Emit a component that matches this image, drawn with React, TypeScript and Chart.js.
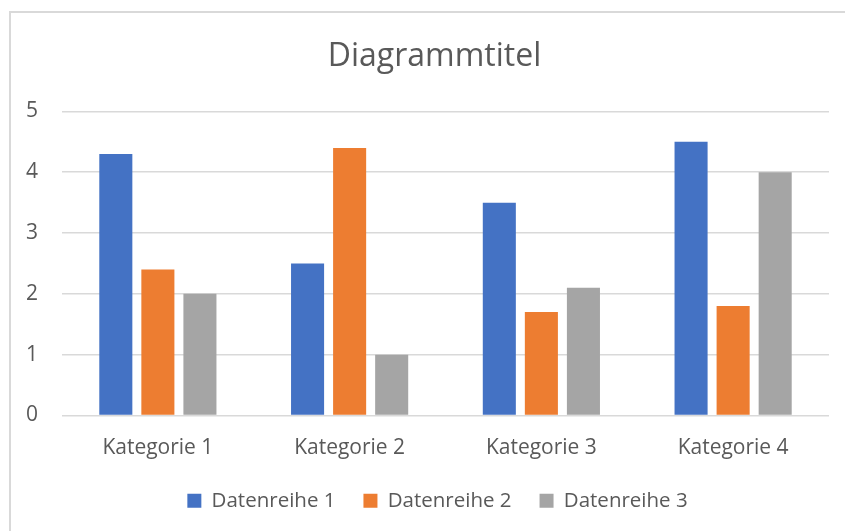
import React, { useEffect, useRef } from "react";
import { Chart, registerables } from "chart.js";

Chart.register(...registerables);

const categories = ["Kategorie 1", "Kategorie 2", "Kategorie 3", "Kategorie 4"];
const series1 = [4.3, 2.5, 3.5, 4.5];
const series2 = [2.4, 4.4, 1.7, 1.8];
const series3 = [2.0, 1.0, 2.1, 4.0];
const seriesNames = ["Datenreihe 1", "Datenreihe 2", "Datenreihe 3"];
const yMin = 0;
const yMax = 5;
const yStep = 1;
const title = "Diagrammtitel";

const FONT = "'Open Sans', sans-serif";
const TEXT = "#595959";

// Shift the title and legend horizontally so they are centred like in the reference
const centerShift = {
  id: "centerShift",
  afterLayout(chart: any) {
    const lg = chart.legend;
    if (lg) {
      lg.left += 18;
      lg.right += 18;
    }
    const tb = chart.titleBlock;
    if (tb) {
      tb.left += 15;
      tb.right += 15;
    }
  },
};

export default function App() {
  const ref = useRef<HTMLCanvasElement>(null);
  useEffect(() => {
    const chart = new Chart(ref.current!, {
      type: "bar",
      data: {
        labels: categories,
        datasets: [
          { label: seriesNames[0], data: series1, backgroundColor: "#4472C4" },
          { label: seriesNames[1], data: series2, backgroundColor: "#ED7D31" },
          { label: seriesNames[2], data: series3, backgroundColor: "#A5A5A5" },
        ],
      },
      plugins: [centerShift],
      options: {
        animation: false,
        responsive: false,
        maintainAspectRatio: false,
        layout: { padding: { left: 10, right: 16, top: 0, bottom: 10 } },
        datasets: { bar: { categoryPercentage: 0.658, barPercentage: 0.786 } },
        plugins: {
          title: {
            display: true,
            text: title,
            color: TEXT,
            font: { family: FONT, size: 32, weight: "normal" },
            padding: { top: 38, bottom: 35 },
          },
          legend: {
            position: "bottom",
            labels: {
              color: TEXT,
              font: { family: FONT, size: 20.5 },
              boxWidth: 14,
              boxHeight: 14,
              padding: 28,
            },
          },
          tooltip: { enabled: false },
        },
        scales: {
          x: {
            grid: { display: false },
            border: { display: false },
            ticks: { color: TEXT, font: { family: FONT, size: 21 }, padding: 12 },
            afterFit: (s: any) => {
              s.height = 47;
            },
          },
          y: {
            min: yMin,
            max: yMax,
            grid: { color: "#d9d9d9", lineWidth: 1.5, drawTicks: false },
            border: { display: false },
            ticks: { stepSize: yStep, color: TEXT, font: { family: FONT, size: 21 }, padding: 24 },
            afterFit: (s: any) => {
              s.width = 52;
            },
          },
        },
      },
    });
    return () => chart.destroy();
  }, []);
  return (
    <div style={{ position: "fixed", left: 0, top: 0, width: 845, height: 531, background: "#fff" }}>
      <canvas ref={ref} width={845} height={531} style={{ position: "absolute", left: 0, top: 0 }} />
      <div
        style={{
          position: "absolute",
          left: 9,
          top: 11,
          width: 860,
          height: 560,
          border: "2px solid #d9d9d9",
          pointerEvents: "none",
        }}
      />
    </div>
  );
}
